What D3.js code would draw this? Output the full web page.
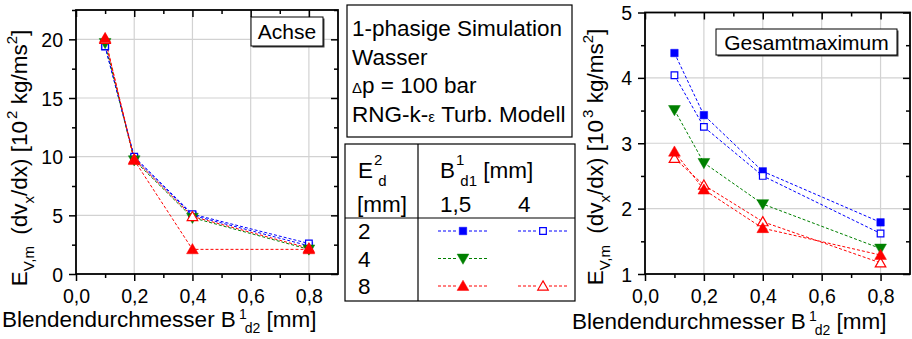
<!DOCTYPE html>
<html>
<head>
<meta charset="utf-8">
<script src="https://cdn.jsdelivr.net/npm/d3@7"></script>
<style>
  body { margin: 0; background: #fff; }
  svg { font-family: "Liberation Sans", Arial, sans-serif; }
</style>
</head>
<body>
<svg id="fig" width="912" height="339"></svg>
<script>
/* global d3 */

// x positions (Blendendurchmesser B1_d2, mm)
var xVals = [0.1, 0.2, 0.4, 0.8];
var xTicks = [0, 0.2, 0.4, 0.6, 0.8];
var xTickLabels = ["0,0", "0,2", "0,4", "0,6", "0,8"];

// Achse, 10^2 kg/ms2
var achseE2B15 = [19.4, 9.9, 5.0, 2.4];
var achseE2B4 = [19.4, 10.0, 5.1, 2.6];
var achseE4B15 = [19.7, 9.7, 4.8, 2.1];
var achseE8B4 = [20.0, 9.8, 4.9, 2.2];
var achseE8B15 = [20.1, 9.7, 2.1, 2.1];
var achseYTicks = [0, 5, 10, 15, 20];

// Gesamtmaximum, 10^3 kg/ms2
var maxE2B15 = [4.38, 3.43, 2.57, 1.79];
var maxE2B4 = [4.04, 3.25, 2.50, 1.62];
var maxE4B15 = [3.51, 2.70, 2.07, 1.39];
var maxE8B4 = [2.77, 2.36, 1.80, 1.17];
var maxE8B15 = [2.87, 2.29, 1.70, 1.29];
var maxYTicks = [1, 2, 3, 4, 5];

var blue = "#0000ff", green = "#008000", red = "#ff0000";

// marker styles: shape, colour, filled
var styles = {
  E2B15: {shape: "square", color: blue, filled: true},
  E2B4: {shape: "square", color: blue, filled: false},
  E4B15: {shape: "down", color: green, filled: true},
  E8B4: {shape: "up", color: red, filled: false},
  E8B15: {shape: "up", color: red, filled: true}
};

var svg = d3.select("#fig");

function marker(g, st, cx, cy) {
  var sym;
  if (st.shape == "square") sym = d3.symbol().type(d3.symbolSquare).size(st.filled ? 56 : 44);
  else sym = d3.symbol().type(d3.symbolTriangle).size(st.filled ? 60 : 48);
  var rot = st.shape == "down" ? 180 : 0;
  var dy = st.shape == "up" ? 1 : (st.shape == "down" ? -1 : 0);
  g.append("path")
    .attr("d", sym())
    .attr("transform", "translate(" + cx + "," + (cy + dy) + ") rotate(" + rot + ")")
    .attr("fill", st.filled ? st.color : "#fff")
    .attr("stroke", st.color)
    .attr("stroke-width", st.filled ? 0.5 : 1.2);
}

function make_chart(cfg) {
  var x = d3.scaleLinear().domain([0, 0.9]).range([cfg.left, cfg.right]);
  var y = d3.scaleLinear().domain(cfg.yDomain).range([cfg.bottom, cfg.top]);
  var g = svg.append("g");

  // grid
  g.append("g").selectAll("line").data(xTicks.slice(1)).enter().append("line")
    .attr("x1", function(d) { return x(d); }).attr("x2", function(d) { return x(d); })
    .attr("y1", cfg.top).attr("y2", cfg.bottom)
    .attr("stroke", "#d2d2d2").attr("stroke-width", 1.2);
  g.append("g").selectAll("line").data(cfg.yTicks.slice(1)).enter().append("line")
    .attr("y1", function(d) { return y(d); }).attr("y2", function(d) { return y(d); })
    .attr("x1", cfg.left).attr("x2", cfg.right)
    .attr("stroke", "#d2d2d2").attr("stroke-width", 1.2);

  // legend box inside plot
  var lb = g.append("g");
  lb.append("rect").attr("x", cfg.boxX + 1.5).attr("y", cfg.boxY + 1.5)
    .attr("width", cfg.boxW).attr("height", cfg.boxH).attr("fill", "#444");
  lb.append("rect").attr("x", cfg.boxX).attr("y", cfg.boxY)
    .attr("width", cfg.boxW).attr("height", cfg.boxH)
    .attr("fill", "#fff").attr("stroke", "#000").attr("stroke-width", 1);
  lb.append("text").attr("x", cfg.boxX + cfg.boxW / 2).attr("y", cfg.boxY + cfg.boxH / 2 + 7.5)
    .attr("text-anchor", "middle").attr("font-size", 21).text(cfg.boxText);

  // axes
  var fmt = function(d) { return xTickLabels[xTicks.indexOf(d)]; };
  var minorX = [0.1, 0.3, 0.5, 0.7];
  var minorY = cfg.yTicks.slice(0, -1).map(function(d, i) { return (d + cfg.yTicks[i + 1]) / 2; });
  if (cfg.yDomain[1] > cfg.yTicks[cfg.yTicks.length - 1]) minorY.push(cfg.yDomain[1]);

  function axisG(axis, tx, ty) {
    var a = g.append("g").attr("transform", "translate(" + tx + "," + ty + ")").call(axis);
    a.select(".domain").remove();
    a.selectAll("line").attr("stroke-width", 1.5);
    a.selectAll("text").attr("font-size", 19.5).attr("fill", "#000")
      .attr("font-family", "'Liberation Sans', Arial, sans-serif");
    return a;
  }
  axisG(d3.axisBottom(x).tickValues(xTicks).tickFormat(fmt).tickSize(7).tickPadding(8), 0, cfg.bottom);
  axisG(d3.axisBottom(x).tickValues(minorX).tickFormat("").tickSize(4), 0, cfg.bottom);
  axisG(d3.axisTop(x).tickValues(xTicks).tickFormat("").tickSize(-7), 0, cfg.top);
  axisG(d3.axisTop(x).tickValues(minorX).tickFormat("").tickSize(-4), 0, cfg.top);
  axisG(d3.axisLeft(y).tickValues(cfg.yTicks).tickFormat(d3.format("d")).tickSize(7).tickPadding(6), cfg.left, 0)
    .selectAll("text").attr("dy", "0.36em");
  axisG(d3.axisLeft(y).tickValues(minorY).tickFormat("").tickSize(4), cfg.left, 0);
  axisG(d3.axisRight(y).tickValues(cfg.yTicks).tickFormat("").tickSize(-7), cfg.right, 0);
  axisG(d3.axisRight(y).tickValues(minorY).tickFormat("").tickSize(-4), cfg.right, 0);

  g.append("rect").attr("x", cfg.left).attr("y", cfg.top)
    .attr("width", cfg.right - cfg.left).attr("height", cfg.bottom - cfg.top)
    .attr("fill", "none").attr("stroke", "#000").attr("stroke-width", 1.8);

  // series
  var line = d3.line().x(function(d, i) { return x(xVals[i]); }).y(function(d) { return y(d); });
  cfg.series.forEach(function(s) {
    var st = styles[s.key];
    g.append("path").datum(s.values).attr("d", line)
      .attr("fill", "none").attr("stroke", st.color)
      .attr("stroke-width", 1).attr("stroke-dasharray", "3,2");
  });
  cfg.series.forEach(function(s) {
    var st = styles[s.key];
    s.values.forEach(function(v, i) { marker(g, st, x(xVals[i]), y(v)); });
  });

  // axis titles
  var xt = g.append("text").attr("x", cfg.xTitleX).attr("y", cfg.xTitleY).attr("font-size", 22.5);
  xt.append("tspan").text("Blendendurchmesser B");
  xt.append("tspan").attr("font-size", 14).attr("dy", -8).attr("dx", 3).text("1");
  xt.append("tspan").attr("font-size", 14).attr("dy", 14).attr("dx", -2).text("d2");
  xt.append("tspan").attr("dy", -6).text(" [mm]");

  var yt = g.append("text")
    .attr("transform", "translate(" + cfg.yTitleX + "," + cfg.yTitleY + ") rotate(-90)")
    .attr("text-anchor", "middle").attr("font-size", 22.5);
  yt.append("tspan").text("E");
  yt.append("tspan").attr("font-size", 15).attr("dy", 7).text("V,m");
  yt.append("tspan").attr("dy", -7).text("\u2002(dv");
  yt.append("tspan").attr("font-size", 15).attr("dy", 7).text("x");
  yt.append("tspan").attr("dy", -7).text("/dx) [10");
  yt.append("tspan").attr("font-size", 15).attr("dy", -10).attr("dx", 2).text(cfg.exp);
  yt.append("tspan").attr("dy", 10).text(" kg/ms");
  yt.append("tspan").attr("font-size", 15).attr("dy", -10).text("2");
  yt.append("tspan").attr("dy", 10).text("]");
}

make_chart({
  left: 76, right: 338, top: 10, bottom: 274,
  yDomain: [0, 22.5], yTicks: achseYTicks, exp: "2",
  boxX: 251, boxY: 17, boxW: 72, boxH: 29, boxText: "Achse",
  xTitleX: 2, xTitleY: 327, yTitleX: 27, yTitleY: 158,
  series: [
    {key: "E2B15", values: achseE2B15},
    {key: "E2B4", values: achseE2B4},
    {key: "E4B15", values: achseE4B15},
    {key: "E8B4", values: achseE8B4},
    {key: "E8B15", values: achseE8B15}
  ]
});

make_chart({
  left: 645, right: 910, top: 12.5, bottom: 274,
  yDomain: [1, 5], yTicks: maxYTicks, exp: "3",
  boxX: 716, boxY: 29, boxW: 181, boxH: 26, boxText: "Gesamtmaximum",
  xTitleX: 572, xTitleY: 329, yTitleX: 603, yTitleY: 157,
  series: [
    {key: "E2B15", values: maxE2B15},
    {key: "E2B4", values: maxE2B4},
    {key: "E4B15", values: maxE4B15},
    {key: "E8B4", values: maxE8B4},
    {key: "E8B15", values: maxE8B15}
  ]
});

// info box
var info = svg.append("g");
info.append("rect").attr("x", 347).attr("y", 5).attr("width", 225).attr("height", 132)
  .attr("fill", "#fff").attr("stroke", "#000").attr("stroke-width", 1.2);
var it = info.append("text").attr("font-size", 22.5);
it.append("tspan").attr("x", 352).attr("y", 36).text("1-phasige Simulation");
it.append("tspan").attr("x", 352).attr("y", 64.5).text("Wasser");
var dl = it.append("tspan").attr("x", 352).attr("y", 93);
dl.append("tspan").attr("font-size", 15).text("\u0394");
dl.append("tspan").text("p = 100 bar");
it.append("tspan").attr("x", 352).attr("y", 121.5).text("RNG-k-");
it.append("tspan").attr("font-size", 15).text("\u03b5");
it.append("tspan").text(" Turb. Modell");

// legend table
var leg = svg.append("g");
leg.append("rect").attr("x", 345).attr("y", 144).attr("width", 230).attr("height", 157)
  .attr("fill", "#fff").attr("stroke", "#000").attr("stroke-width", 1.2);
leg.append("line").attr("x1", 418).attr("x2", 418).attr("y1", 144).attr("y2", 301)
  .attr("stroke", "#000").attr("stroke-width", 1.2);
leg.append("line").attr("x1", 345).attr("x2", 575).attr("y1", 218).attr("y2", 218)
  .attr("stroke", "#000").attr("stroke-width", 1.2);

var legRows = ["2", "4", "8"];
var legCols = ["1,5", "4"];
var legKeys = [["E2B15", "E2B4"], ["E4B15", null], ["E8B15", "E8B4"]];

var h1 = leg.append("text").attr("x", 358).attr("y", 178).attr("font-size", 22.5);
h1.append("tspan").text("E");
h1.append("tspan").attr("font-size", 15).attr("dy", -13).attr("dx", 1).text("2");
h1.append("tspan").attr("font-size", 15).attr("dy", 21).attr("dx", -4).text("d");
leg.append("text").attr("x", 357).attr("y", 212).attr("font-size", 22.5).text("[mm]");

var h2 = leg.append("text").attr("x", 440).attr("y", 178).attr("font-size", 22.5);
h2.append("tspan").text("B");
h2.append("tspan").attr("font-size", 15).attr("dy", -13).attr("dx", 1).text("1");
h2.append("tspan").attr("font-size", 15).attr("dy", 21).attr("dx", -4).text("d1");
h2.append("tspan").attr("dy", -8).text(" [mm]");

var colX = d3.scalePoint().domain(legCols).range([463, 543]);
var rowY = d3.scalePoint().domain(legRows).range([231, 286]);
legCols.forEach(function(c) {
  leg.append("text").attr("x", colX(c) - (c == "4" ? 25 : 23)).attr("y", 212)
    .attr("font-size", 22.5).text(c);
});
legRows.forEach(function(r, ri) {
  leg.append("text").attr("x", 358).attr("y", rowY(r) + 8).attr("font-size", 22.5).text(r);
  legKeys[ri].forEach(function(k, ci) {
    if (!k) return;
    var st = styles[k];
    var cx = colX(legCols[ci]), cy = rowY(r);
    [[cx - 25, cx - 6], [cx + 6, cx + 26]].forEach(function(seg) {
      leg.append("line").attr("x1", seg[0]).attr("x2", seg[1]).attr("y1", cy).attr("y2", cy)
        .attr("stroke", st.color).attr("stroke-width", 1).attr("stroke-dasharray", "3,2");
    });
    marker(leg, st, cx, cy);
  });
});
</script>
</body>
</html>
